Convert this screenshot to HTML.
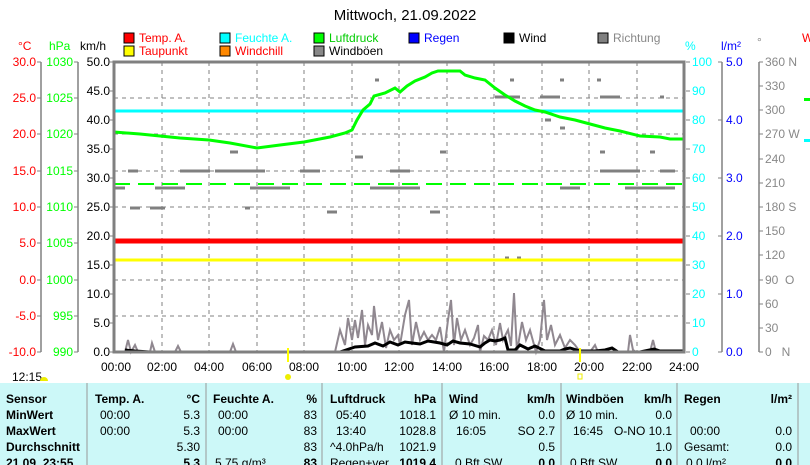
<!DOCTYPE html>
<html><head><meta charset="utf-8"><style>
body{margin:0;background:#fff;width:810px;height:465px;overflow:hidden;font-family:"Liberation Sans",sans-serif}
svg{position:absolute;left:0;top:0}
text{font-family:"Liberation Sans",sans-serif;font-size:12px}
</style></head><body>
<svg width="810" height="465" viewBox="0 0 810 465">
<text x="405" y="20" text-anchor="middle" font-size="15" style="font-size:15px">Mittwoch, 21.09.2022</text>
<!-- legend -->
<g font-size="12">
<rect x="124" y="33" width="10" height="10" fill="#f00" stroke="#000"/><text x="139" y="42" fill="#f00">Temp. A.</text>
<rect x="124" y="46" width="10" height="10" fill="#ff0" stroke="#000"/><text x="139" y="55" fill="#f00">Taupunkt</text>
<rect x="220" y="33" width="10" height="10" fill="#0ff" stroke="#000"/><text x="235" y="42" fill="#0ff">Feuchte A.</text>
<rect x="220" y="46" width="10" height="10" fill="#f80" stroke="#000"/><text x="235" y="55" fill="#f00">Windchill</text>
<rect x="314" y="33" width="10" height="10" fill="#0f0" stroke="#000"/><text x="329" y="42" fill="#0c0">Luftdruck</text>
<rect x="314" y="46" width="10" height="10" fill="#888" stroke="#000"/><text x="329" y="55">Windböen</text>
<rect x="409" y="33" width="10" height="10" fill="#00f" stroke="#000"/><text x="424" y="42" fill="#00f">Regen</text>
<rect x="504" y="33" width="10" height="10" fill="#000" stroke="#000"/><text x="519" y="42">Wind</text>
<rect x="598" y="33" width="10" height="10" fill="#808080" stroke="#000"/><text x="613" y="42" fill="#888">Richtung</text>
</g>
<text x="18" y="50" fill="#f00">°C</text><text x="49" y="50" fill="#0f0">hPa</text><text x="80" y="50">km/h</text>
<text x="685" y="50" fill="#0ff">%</text><text x="721" y="50" fill="#00f">l/m²</text><text x="757" y="46" fill="#888">°</text>
<text x="802" y="42" fill="#f00">W</text>
<rect x="804" y="98" width="6" height="3" fill="#0f0"/><rect x="804" y="139" width="6" height="3" fill="#0ff"/>
<!-- axes -->
<g stroke="#808080" stroke-width="1.5">
<line x1="41" y1="62" x2="41" y2="352"/><line x1="78" y1="62" x2="78" y2="352"/>
<line x1="722" y1="62" x2="722" y2="352"/><line x1="759" y1="62" x2="759" y2="352"/>
</g>
<g id="lt" font-size="12" text-anchor="end">
<text x="36" y="66" fill="#f00">30.0</text><text x="36" y="102" fill="#f00">25.0</text><text x="36" y="138" fill="#f00">20.0</text><text x="36" y="175" fill="#f00">15.0</text><text x="36" y="211" fill="#f00">10.0</text><text x="36" y="247" fill="#f00">5.0</text><text x="36" y="284" fill="#f00">0.0</text><text x="36" y="320" fill="#f00">-5.0</text><text x="36" y="356" fill="#f00">-10.0</text>
<text x="73" y="66" fill="#0f0">1030</text><text x="73" y="102" fill="#0f0">1025</text><text x="73" y="138" fill="#0f0">1020</text><text x="73" y="175" fill="#0f0">1015</text><text x="73" y="211" fill="#0f0">1010</text><text x="73" y="247" fill="#0f0">1005</text><text x="73" y="284" fill="#0f0">1000</text><text x="73" y="320" fill="#0f0">995</text><text x="73" y="356" fill="#0f0">990</text>
<text x="110" y="66">50.0</text><text x="110" y="95">45.0</text><text x="110" y="124">40.0</text><text x="110" y="153">35.0</text><text x="110" y="182">30.0</text><text x="110" y="211">25.0</text><text x="110" y="240">20.0</text><text x="110" y="269">15.0</text><text x="110" y="298">10.0</text><text x="110" y="327">5.0</text><text x="110" y="356">0.0</text>
</g>
<g stroke="#808080" stroke-width="1">
<path d="M37 62h4M37 98h4M37 134h4M37 171h4M37 207h4M37 243h4M37 280h4M37 316h4M37 352h4M74 62h4M74 98h4M74 134h4M74 171h4M74 207h4M74 243h4M74 280h4M74 316h4M74 352h4M110 62h4M110 91h4M110 120h4M110 149h4M110 178h4M110 207h4M110 236h4M110 265h4M110 294h4M110 323h4M110 352h4"/>
<path d="M686 62h4M686 91h4M686 120h4M686 149h4M686 178h4M686 207h4M686 236h4M686 265h4M686 294h4M686 323h4M686 352h4M718 62h4M718 120h4M718 178h4M718 236h4M718 294h4M718 352h4M759 62h4M759 86h4M759 110h4M759 134h4M759 159h4M759 183h4M759 207h4M759 231h4M759 255h4M759 280h4M759 304h4M759 328h4M759 352h4"/>
</g>
<g font-size="12" fill="#0ff">
<text x="692" y="66">100</text><text x="692" y="95">90</text><text x="692" y="124">80</text><text x="692" y="153">70</text><text x="692" y="182">60</text><text x="692" y="211">50</text><text x="692" y="240">40</text><text x="692" y="269">30</text><text x="692" y="298">20</text><text x="692" y="327">10</text><text x="692" y="356">0</text>
</g>
<g font-size="12" fill="#00f"><text x="726" y="66">5.0</text><text x="726" y="124">4.0</text><text x="726" y="182">3.0</text><text x="726" y="240">2.0</text><text x="726" y="298">1.0</text><text x="726" y="356">0.0</text></g>
<g font-size="12" fill="#888"><text x="765" y="66">360 N</text><text x="765" y="90">330</text><text x="765" y="114">300</text><text x="765" y="138">270 W</text><text x="765" y="163">240</text><text x="765" y="187">210</text><text x="765" y="211">180 S</text><text x="765" y="235">150</text><text x="765" y="259">120</text><text x="765" y="284">90&#160;&#160;O</text><text x="765" y="308">60</text><text x="765" y="332">30</text><text x="765" y="356">0&#160;&#160;&#160;N</text></g>
<!-- grid -->
<g stroke="#808080" stroke-dasharray="4,4" stroke-width="1">
<path d="M162 62V352M209 62V352M257 62V352M304 62V352M352 62V352M399 62V352M447 62V352M494 62V352M542 62V352M589 62V352M637 62V352"/>
<path d="M114 98H684M114 134H684M114 171H684M114 207H684M114 243H684M114 280H684M114 316H684"/>
</g>
<!-- direction dashes -->
<g stroke="#808080" stroke-width="3">
<path d="M128 171h10M180 171h30M215 171h50M300 171h20M390 171h20M600 171h40M660 171h15M600 97h20M660 97h4M495 97h25M540 97h20M115 188h10M155 188h30M250 188h40M370 188h50M560 188h20M625 188h20M645 188h30M130 208h10M150 208h15M245 208h5M327 212h10M430 212h10M440 152h6M230 152h8M355 157h8M545 120h6M560 128h5M600 152h5M650 152h5M375 80h4M510 80h4M560 80h4M597 80h4M505 258h4M517 258h4"/>
</g>
<line x1="114" y1="184" x2="684" y2="184" stroke="#0f0" stroke-width="2" stroke-dasharray="16,8"/>
<line x1="114" y1="111" x2="684" y2="111" stroke="#0ff" stroke-width="3"/>
<line x1="114" y1="241" x2="684" y2="241" stroke="#f00" stroke-width="5"/>
<line x1="114" y1="260" x2="684" y2="260" stroke="#ff0" stroke-width="3"/>
<polyline fill="none" stroke="#0f0" stroke-width="3" points="114,132 140,134 160,136 180,138 209,140 230,143 257,148 280,145 304,142 330,137 345,133 352,130 357,120 363,110 370,104 374,96 385,93 395,88 400,92 407,86 415,81 425,77 432,73 438,71 460,71 465,75 475,78 485,80 495,88 505,95 515,101 525,106 535,110 545,112 560,117 575,120 590,124 605,128 620,131 640,136 660,137 670,139 683,139"/>
<!-- gusts -->
<polyline fill="none" stroke="#908890" stroke-width="2" points="125,352 128,340 131,352 135,345 138,352 150,352 152,343 155,352 175,352 178,346 181,352 230,352 233,344 236,352 335,352 340,330 345,345 348,318 352,340 355,320 358,338 362,310 365,345 368,325 372,335 374,306 378,340 382,322 386,348 390,330 394,340 398,335 400,345 405,315 409,300 412,345 416,322 420,340 424,332 428,340 432,335 436,340 440,327 444,352 448,320 451,300 454,345 457,318 461,340 465,330 470,345 474,338 478,325 480,352 484,336 488,340 492,330 496,345 500,323 503,340 508,330 511,346 514,293 517,352 522,322 526,340 530,330 536,352 540,340 544,300 547,340 551,325 555,345 560,335 565,348 570,340 575,345 580,352 590,352 595,345 598,352 628,352 630,335 633,350 636,352 650,352 653,340 656,352 684,352"/>
<polyline fill="none" stroke="#000" stroke-width="3" points="125,350 135,351 150,352 340,352 346,350 355,347 368,346 375,343 383,346 390,342 398,345 405,342 412,343 420,344 428,341 434,342 440,343 447,345 453,341 460,343 470,344 480,347 485,343 490,340 495,341 500,340 505,338 508,350 515,350 520,345 528,349 535,346 545,351 560,351 565,349 570,348 580,351 595,351 605,350 612,348 618,352 640,352 654,349 660,351 684,351"/>
<line x1="114" y1="352" x2="684" y2="352" stroke="#00c" stroke-width="2"/>
<rect x="114" y="62" width="570" height="290" fill="none" stroke="#808080" stroke-width="3"/>
<g font-size="12" text-anchor="middle">
<text x="116" y="371">00:00</text><text x="162" y="371">02:00</text><text x="209" y="371">04:00</text><text x="257" y="371">06:00</text><text x="304" y="371">08:00</text><text x="352" y="371">10:00</text><text x="399" y="371">12:00</text><text x="447" y="371">14:00</text><text x="494" y="371">16:00</text><text x="542" y="371">18:00</text><text x="589" y="371">20:00</text><text x="637" y="371">22:00</text><text x="684" y="371">24:00</text>
</g>
<line x1="288" y1="348" x2="288" y2="362" stroke="#ff0" stroke-width="2"/>
<line x1="580" y1="348" x2="580" y2="362" stroke="#ff0" stroke-width="2"/>
<text x="12" y="381" font-size="12">12:15</text><path d="M40 381a4 4 0 0 1 8 0z" fill="#ee0"/>
<circle cx="288" cy="377" r="3" fill="#ee0"/><rect x="578" y="374" width="4" height="5" fill="none" stroke="#ee0"/>
<!-- table -->
<rect x="0" y="383" width="810" height="82" fill="#ccf8f8"/>
<g stroke="#999" stroke-width="1"><path d="M87 383V465M206 383V465M322 383V465M442 383V465M561 383V465M677 383V465M798 383V465"/></g>
<g font-size="12" font-weight="bold"><text x="6" y="403">Sensor</text><text x="6" y="419">MinWert</text><text x="6" y="435">MaxWert</text><text x="6" y="451">Durchschnitt</text><text x="6" y="467">21.09. 23:55</text>
<text x="95" y="403">Temp. A.</text><text x="200" y="403" text-anchor="end">°C</text>
<text x="213" y="403">Feuchte A.</text><text x="317" y="403" text-anchor="end">%</text>
<text x="330" y="403">Luftdruck</text><text x="436" y="403" text-anchor="end">hPa</text>
<text x="449" y="403">Wind</text><text x="555" y="403" text-anchor="end">km/h</text>
<text x="566" y="403">Windböen</text><text x="672" y="403" text-anchor="end">km/h</text>
<text x="684" y="403">Regen</text><text x="792" y="403" text-anchor="end">l/m²</text>
<text x="200" y="467" text-anchor="end">5.3</text><text x="317" y="467" text-anchor="end">83</text><text x="436" y="467" text-anchor="end">1019.4</text><text x="555" y="467" text-anchor="end">0.0</text><text x="672" y="467" text-anchor="end">0.0</text><text x="792" y="467" text-anchor="end">0.0</text></g>
<g font-size="12">
<text x="100" y="419">00:00</text><text x="200" y="419" text-anchor="end">5.3</text><text x="218" y="419">00:00</text><text x="317" y="419" text-anchor="end">83</text><text x="336" y="419">05:40</text><text x="436" y="419" text-anchor="end">1018.1</text><text x="449" y="419">Ø 10 min.</text><text x="555" y="419" text-anchor="end">0.0</text><text x="566" y="419">Ø 10 min.</text><text x="672" y="419" text-anchor="end">0.0</text>
<text x="100" y="435">00:00</text><text x="200" y="435" text-anchor="end">5.3</text><text x="218" y="435">00:00</text><text x="317" y="435" text-anchor="end">83</text><text x="336" y="435">13:40</text><text x="436" y="435" text-anchor="end">1028.8</text><text x="456" y="435">16:05</text><text x="555" y="435" text-anchor="end">SO 2.7</text><text x="573" y="435">16:45</text><text x="672" y="435" text-anchor="end">O-NO 10.1</text><text x="690" y="435">00:00</text><text x="792" y="435" text-anchor="end">0.0</text>
<text x="200" y="451" text-anchor="end">5.30</text><text x="317" y="451" text-anchor="end">83</text><text x="330" y="451">^4.0hPa/h</text><text x="436" y="451" text-anchor="end">1021.9</text><text x="555" y="451" text-anchor="end">0.5</text><text x="672" y="451" text-anchor="end">1.0</text><text x="684" y="451">Gesamt:</text><text x="792" y="451" text-anchor="end">0.0</text>
<text x="215" y="467">5.75 g/m³</text><text x="330" y="467">Regen+ver.</text><text x="455" y="467">0 Bft SW</text><text x="570" y="467">0 Bft SW</text><text x="686" y="467">0.0 l/m²</text>
</g>
</svg>
</body></html>
